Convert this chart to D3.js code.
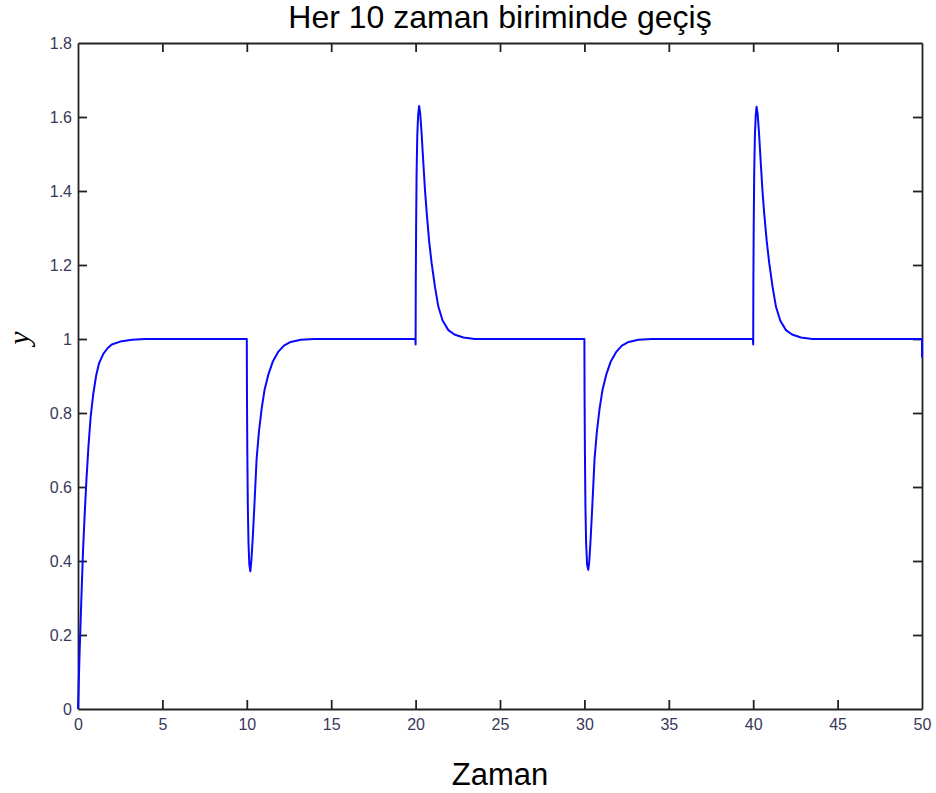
<!DOCTYPE html>
<html lang="tr">
  <head>
    <meta charset="utf-8" />
    <script src="https://d3js.org/d3.v7.min.js"></script>
    <style>
      body { margin: 0; background: #fff; }
      .axis path, .axis line { stroke: #222; stroke-width: 1.8; }
      .axis text { font-family: "Liberation Sans", Arial, sans-serif; font-size: 16px; fill: #38385a; }
    </style>
  </head>
  <body>
    <script>

      // chart size and margins
      var w = 936;
      var h = 793;
      var topChart = 43;
      var bottomChart = 84;
      var leftChart = 78;
      var rightChart = 14;

      // data: time and output y
      var zaman = [
        0, 0.05, 0.1, 0.2, 0.3, 0.4, 0.5, 0.62, 0.75, 0.9, 1.07, 1.25, 1.5, 1.75, 2.0, 2.5, 3.2, 4.0,
        10.0, 10.01, 10.03, 10.06, 10.1, 10.15, 10.21, 10.27, 10.35, 10.45, 10.58, 10.72, 10.88, 11.05,
        11.27, 11.55, 11.87, 12.2, 12.6, 13.2, 14.0,
        19.98, 20.0, 20.01, 20.03, 20.06, 20.1, 20.15, 20.21, 20.27, 20.35, 20.46, 20.56, 20.66, 20.8,
        20.95, 21.15, 21.35, 21.6, 21.94, 22.3, 22.83, 23.5,
        30.0, 30.01, 30.03, 30.06, 30.1, 30.16, 30.23, 30.29, 30.37, 30.47, 30.6, 30.74, 30.9, 31.07,
        31.29, 31.57, 31.9, 32.22, 32.62, 33.2, 34.0,
        39.98, 40.0, 40.01, 40.03, 40.06, 40.1, 40.15, 40.2, 40.26, 40.34, 40.45, 40.55, 40.65, 40.8,
        40.95, 41.15, 41.35, 41.6, 41.94, 42.3, 42.83, 43.5,
        50.0, 50.0
      ];
      var yDegeri = [
        0, 0.08, 0.16, 0.3, 0.43, 0.53, 0.62, 0.71, 0.79, 0.85, 0.9, 0.935, 0.96, 0.975, 0.985, 0.993, 0.998, 1.0,
        1.0, 0.85, 0.7, 0.55, 0.45, 0.39, 0.372, 0.4, 0.46, 0.55, 0.675, 0.75, 0.812, 0.862,
        0.903, 0.94, 0.966, 0.982, 0.992, 0.998, 1.0,
        1.0, 0.985, 1.15, 1.3, 1.45, 1.55, 1.605, 1.63, 1.61, 1.56, 1.475, 1.4, 1.34, 1.265,
        1.205, 1.14, 1.087, 1.05, 1.024, 1.012, 1.004, 1.0,
        1.0, 0.85, 0.7, 0.55, 0.45, 0.39, 0.376, 0.4, 0.46, 0.55, 0.675, 0.75, 0.812, 0.862,
        0.903, 0.94, 0.966, 0.982, 0.992, 0.998, 1.0,
        1.0, 0.985, 1.15, 1.3, 1.45, 1.55, 1.605, 1.628, 1.61, 1.56, 1.475, 1.4, 1.34, 1.265,
        1.205, 1.14, 1.087, 1.05, 1.024, 1.012, 1.004, 1.0,
        1.0, 0.95
      ];

      // tick labels
      var xTicks = [0, 5, 10, 15, 20, 25, 30, 35, 40, 45, 50];
      var yTicks = [0, 0.2, 0.4, 0.6, 0.8, 1, 1.2, 1.4, 1.6, 1.8];

      var svg = d3.select("body")
                  .append("svg")
                  .attr("width", w)
                  .attr("height", h);

      var xScale = d3.scaleLinear()
                     .domain([0, 50])
                     .range([leftChart, w - rightChart]);
      var yScale = d3.scaleLinear()
                     .domain([0, 1.8])
                     .range([h - bottomChart, topChart]);

      // axes, ticks point inwards like matlab
      svg.append("g")
         .attr("class", "axis")
         .attr("transform", "translate(0," + (h - bottomChart) + ")")
         .call(d3.axisBottom(xScale).tickValues(xTicks).tickSize(-9)
                 .tickPadding(10).tickSizeOuter(0).tickFormat(d3.format("d")));
      svg.append("g")
         .attr("class", "axis")
         .attr("transform", "translate(0," + topChart + ")")
         .call(d3.axisTop(xScale).tickValues(xTicks).tickSize(-9)
                 .tickSizeOuter(0).tickFormat(""));
      svg.append("g")
         .attr("class", "axis")
         .attr("transform", "translate(" + leftChart + ",0)")
         .call(d3.axisLeft(yScale).tickValues(yTicks).tickSize(-9)
                 .tickPadding(6).tickSizeOuter(0).tickFormat(d3.format("")));
      svg.append("g")
         .attr("class", "axis")
         .attr("transform", "translate(" + (w - rightChart) + ",0)")
         .call(d3.axisRight(yScale).tickValues(yTicks).tickSize(-9)
                 .tickSizeOuter(0).tickFormat(""));

      // remove end ticks that sit on the frame
      svg.selectAll(".axis .tick line")
         .filter(function(d) { return d == 0 || d == 50 || d == 1.8; })
         .remove();

      // the response line
      var line = d3.line()
                   .x(function(d, i) { return xScale(zaman[i]); })
                   .y(function(d, i) { return yScale(yDegeri[i]); });

      svg.append("path")
         .datum(zaman)
         .attr("d", line)
         .attr("fill", "none")
         .attr("stroke", "#0808ff")
         .attr("stroke-width", 2)
         .attr("stroke-linejoin", "round");

      // title
      svg.append("text")
         .attr("x", (w - leftChart - rightChart) / 2 + leftChart)
         .attr("y", 28)
         .style("text-anchor", "middle")
         .style("font-family", "Liberation Sans, Arial, sans-serif")
         .style("font-size", "32px")
         .text("Her 10 zaman biriminde geçiş");

      // x label
      svg.append("text")
         .attr("x", (w - leftChart - rightChart) / 2 + leftChart)
         .attr("y", 785)
         .style("text-anchor", "middle")
         .style("font-family", "Liberation Sans, Arial, sans-serif")
         .style("font-size", "31px")
         .text("Zaman");

      // y label
      svg.append("text")
         .attr("transform", "translate(" + 29 + "," + 338 + ") rotate(-90)")
         .style("text-anchor", "middle")
         .style("font-family", "Liberation Serif, serif")
         .style("font-style", "italic")
         .style("font-size", "30px")
         .text("y");

    </script>
  </body>
</html>
